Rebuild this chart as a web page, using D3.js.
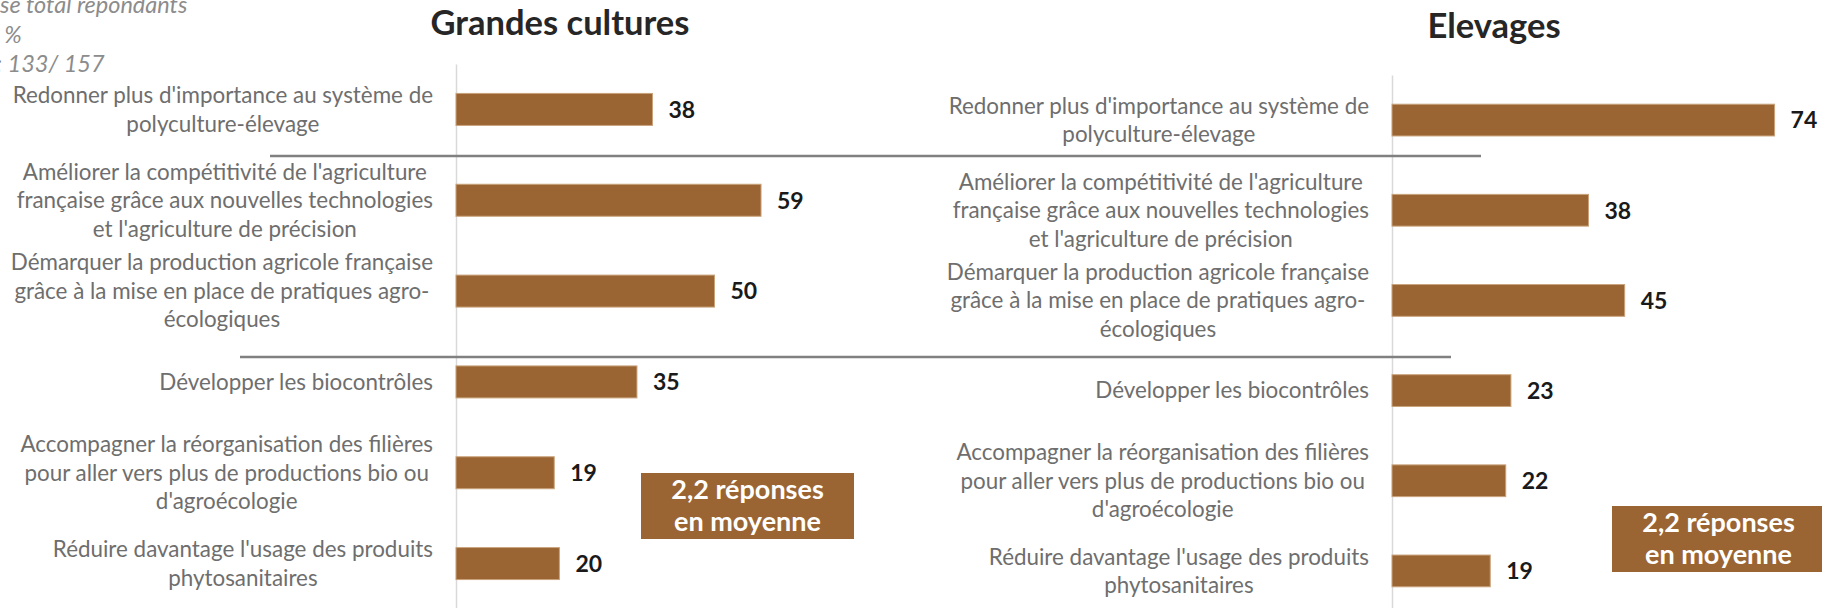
<!DOCTYPE html>
<html>
<head>
<meta charset="utf-8">
<script src="https://cdn.jsdelivr.net/npm/d3@7"></script>
<style>
body { margin: 0; background: #fff; }
svg { display: block; font-family: Lato, 'Open Sans', sans-serif; }
.cat { fill: #6e6e6e; font-size: 22.4px; }
.val { fill: #1a1a1a; font-size: 23px; font-weight: bold; }
.title { fill: #262626; font-size: 34.5px; font-weight: bold; }
.note { fill: #8c8c8c; font-size: 23.5px; font-style: italic; }
.box-text { fill: #fff; font-size: 27px; font-weight: bold; }
</style>
</head>
<body>
<div id="chart"></div>
<script>
// categories (with the line breaks used in the original)
const categories = [
    ["Redonner plus d'importance au système de", "polyculture-élevage"],
    ["Améliorer la compétitivité de l'agriculture", "française grâce aux nouvelles technologies", "et l'agriculture de précision"],
    ["Démarquer la production agricole française", "grâce à la mise en place de pratiques agro-", "écologiques"],
    ["Développer les biocontrôles"],
    ["Accompagner la réorganisation des filières", "pour aller vers plus de productions bio ou", "d'agroécologie"],
    ["Réduire davantage l'usage des produits", "phytosanitaires"]
];
const grandesCultures = [38, 59, 50, 35, 19, 20];
const elevages = [74, 38, 45, 23, 22, 19];
const panelTitles = ['Grandes cultures', 'Elevages'];
const noteLines = ['Base total repondants', 'En %', 'N : 133/ 157'];
const boxLines = ['2,2 réponses', 'en moyenne'];

    //sizes
const w = 1822,
      h = 608,
      barColor = '#9a6433',
      lineH = 28.5,
      unitPx = 5.17;

const panels = [
    {title: panelTitles[0], values: grandesCultures, axisX: 456, yRange: [64, 609], labelX: 433,
     titleX: 560, titleY: 35, box: {x: 641, y: 473, w: 213, h: 66}},
    {title: panelTitles[1], values: elevages, axisX: 1392, yRange: [75, 616], labelX: 1369,
     titleX: 1494, titleY: 38, box: {x: 1612, y: 506, w: 213, h: 66}}
];
const separators = [
    {y: 156, x1: 270, x2: 1481},
    {y: 357, x1: 240, x2: 1451}
];

const svg = d3.select('#chart')
    .append('svg')
    .attr('width', w)
    .attr('height', h);

panels.forEach(p => {
    const xScale = d3.scaleLinear()
        .domain([0, 100])
        .range([p.axisX, p.axisX + 100 * unitPx]);
    const yScale = d3.scaleBand()
        .domain(d3.range(categories.length))
        .range(p.yRange)
        .paddingInner(0.648)
        .paddingOuter(0.324);

    const g = svg.append('g');

    // axis line only
    g.append('g')
        .attr('transform', 'translate(' + p.axisX + ',0)')
        .call(d3.axisLeft(yScale).tickSize(0).tickFormat(''))
        .call(a => a.select('.domain').attr('stroke', '#d9d9d9').attr('stroke-width', 1.5));

    g.selectAll('.bar')
        .data(p.values)
        .enter()
        .append('rect')
        .attr('class', 'bar')
        .attr('x', xScale(0))
        .attr('y', (d, i) => yScale(i))
        .attr('width', d => xScale(d) - xScale(0))
        .attr('height', yScale.bandwidth())
        .attr('fill', barColor)
        .attr('stroke', '#c9a27a')
        .attr('stroke-width', 1);

    g.selectAll('.val')
        .data(p.values)
        .enter()
        .append('text')
        .attr('class', 'val')
        .attr('x', d => xScale(d) + 16)
        .attr('y', (d, i) => yScale(i) + yScale.bandwidth() / 2)
        .attr('dy', '0.36em')
        .text(d => d);

    const labels = g.selectAll('.cat')
        .data(categories)
        .enter()
        .append('text')
        .attr('class', 'cat')
        .attr('text-anchor', 'middle');

    labels.each(function(lines, i) {
        const mid = yScale(i) + yScale.bandwidth() / 2;
        const t = d3.select(this);
        // centre each line on the widest one, right edge at labelX
        const tmp = lines.map(l => t.append('tspan').text(l));
        const widths = tmp.map(s => s.node().getComputedTextLength());
        const maxW = d3.max(widths);
        tmp.forEach((s, k) => {
            s.attr('x', p.labelX - maxW / 2)
             .attr('y', mid + (k - (lines.length - 1) / 2) * lineH)
             .attr('dy', '0.35em');
        });
    });

    svg.append('text')
        .attr('class', 'title')
        .attr('x', p.titleX)
        .attr('y', p.titleY)
        .attr('text-anchor', 'middle')
        .text(p.title);

    // "2,2 réponses en moyenne" box
    svg.append('rect')
        .attr('x', p.box.x)
        .attr('y', p.box.y)
        .attr('width', p.box.w)
        .attr('height', p.box.h)
        .attr('fill', barColor);

    svg.selectAll(null)
        .data(boxLines)
        .enter()
        .append('text')
        .attr('class', 'box-text')
        .attr('text-anchor', 'middle')
        .attr('x', p.box.x + p.box.w / 2)
        .attr('y', (d, i) => p.box.y + p.box.h / 2 + (i - 0.5) * 32)
        .attr('dy', '0.35em')
        .text(d => d);
});

svg.selectAll('.sep')
    .data(separators)
    .enter()
    .append('line')
    .attr('class', 'sep')
    .attr('x1', d => d.x1)
    .attr('x2', d => d.x2)
    .attr('y1', d => d.y)
    .attr('y2', d => d.y)
    .attr('stroke', '#808080')
    .attr('stroke-width', 2.5);

    //note top left, partly cut off by the edge (as in the original)
svg.selectAll('.note')
    .data(noteLines)
    .enter()
    .append('text')
    .attr('class', 'note')
    .attr('x', -26)
    .attr('y', (d, i) => 13 + i * 29.5)
    .text(d => d);
</script>
</body>
</html>
